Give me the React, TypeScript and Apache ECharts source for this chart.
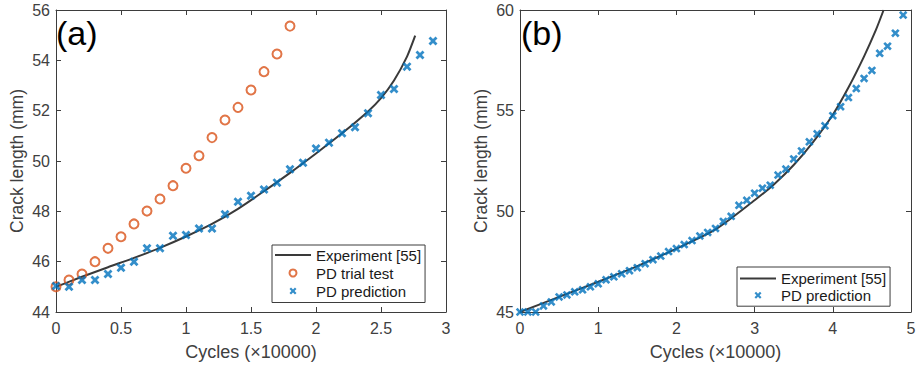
import React, { useEffect, useRef } from "react";
import * as echarts from "echarts";

// ---------- Panel (a) data ----------
const aExpX = [0, 0.2, 0.4, 0.6, 0.8, 1.0, 1.2, 1.4, 1.6, 1.8, 2.0, 2.2, 2.4, 2.5, 2.6, 2.7, 2.763];
const aExpY = [45.0, 45.4, 45.78, 46.15, 46.55, 47.0, 47.5, 48.1, 48.8, 49.53, 50.3, 51.1, 51.97, 52.5, 53.2, 54.15, 54.98];

const aTrialX = [0, 0.1, 0.2, 0.3, 0.4, 0.5, 0.6, 0.7, 0.8, 0.9, 1.0, 1.1, 1.2, 1.3, 1.4, 1.5, 1.6, 1.7, 1.8];
const aTrialY = [45.0, 45.27, 45.51, 46.0, 46.53, 46.99, 47.5, 48.01, 48.49, 49.02, 49.71, 50.21, 50.93, 51.63, 52.13, 52.82, 53.55, 54.25, 55.36];

const aPredX = [0, 0.1, 0.2, 0.3, 0.4, 0.5, 0.6, 0.7, 0.8, 0.9, 1.0, 1.1, 1.2, 1.3, 1.4, 1.5, 1.6, 1.7, 1.8, 1.9, 2.0, 2.1, 2.2, 2.3, 2.4, 2.5, 2.6, 2.7, 2.8, 2.9];
const aPredY = [45.03, 45.0, 45.27, 45.27, 45.51, 45.76, 46.0, 46.53, 46.53, 47.03, 47.06, 47.32, 47.32, 47.88, 48.38, 48.62, 48.87, 49.14, 49.67, 49.93, 50.5, 50.73, 51.1, 51.34, 51.9, 52.62, 52.86, 53.75, 54.21, 54.77];

// ---------- Panel (b) data ----------
const bExpX = [0, 0.5, 1.0, 1.5, 2.0, 2.5, 3.0, 3.25, 3.5, 3.75, 4.0, 4.2, 4.4, 4.55, 4.65];
const bExpY = [45.0, 45.75, 46.5, 47.28, 48.15, 49.1, 50.55, 51.35, 52.3, 53.45, 54.8, 56.15, 57.7, 59.0, 60.0];

const bPredX = [0, 0.1, 0.2, 0.3, 0.4, 0.5, 0.6, 0.7, 0.8, 0.9, 1.0, 1.1, 1.2, 1.3, 1.4, 1.5, 1.6, 1.7, 1.8, 1.9, 2.0, 2.1, 2.2, 2.3, 2.4, 2.5, 2.6, 2.7, 2.8, 2.9, 3.0, 3.1, 3.2, 3.3, 3.4, 3.5, 3.6, 3.7, 3.8, 3.9, 4.0, 4.1, 4.2, 4.3, 4.4, 4.5, 4.6, 4.7, 4.8, 4.9];
const bPredY = [45.0, 45.0, 45.0, 45.3, 45.5, 45.75, 45.85, 46.0, 46.1, 46.25, 46.4, 46.6, 46.75, 46.9, 47.05, 47.2, 47.4, 47.6, 47.78, 48.0, 48.15, 48.35, 48.55, 48.78, 48.95, 49.15, 49.5, 49.75, 50.3, 50.55, 50.9, 51.15, 51.3, 51.8, 52.1, 52.6, 53.0, 53.45, 53.85, 54.25, 54.75, 55.2, 55.65, 56.1, 56.6, 57.0, 57.85, 58.2, 58.85, 59.75];

const X_NAME = "Cycles (\u00d710000)";
const Y_NAME = "Crack length (mm)";

const FONT = "'Liberation Sans', Arial, Helvetica, sans-serif";
const AXIS_COLOR = "#3d3d3d";
const TEXT_COLOR = "#404040";
const ORANGE = "#D95319";
const BLUE = "#0072BD";
const LINE_COLOR = "#3a3a3a";
const X_MARK = "path://M2.2,0L5,2.8L7.8,0L10,2.2L7.2,5L10,7.8L7.8,10L5,7.2L2.2,10L0,7.8L2.8,5L0,2.2Z";
const LINE_ICON = "path://M0,0H36V2H0Z";

const zip = (xs: number[], ys: number[]) => xs.map((x, i) => [x, ys[i]]);

const tick = { show: true, inside: true, length: 5, lineStyle: { color: AXIS_COLOR, width: 1 } };
const line = { show: true, onZero: false, lineStyle: { color: AXIS_COLOR, width: 1 } };

function xAxes(gridIndex: number, min: number, max: number, interval: number) {
  return [
    {
      type: "value", gridIndex, min, max, interval, position: "bottom",
      axisLine: line, axisTick: tick, splitLine: { show: false },
      axisLabel: { color: TEXT_COLOR, fontSize: 16, fontFamily: FONT, margin: 8 },
      name: X_NAME, nameLocation: "middle", nameGap: 31,
      nameTextStyle: { color: TEXT_COLOR, fontSize: 18, fontFamily: FONT },
    },
    {
      type: "value", gridIndex, min, max, interval, position: "top",
      axisLine: line, axisTick: tick, splitLine: { show: false },
      axisLabel: { show: false },
    },
  ];
}

function yAxes(gridIndex: number, min: number, max: number, interval: number) {
  return [
    {
      type: "value", gridIndex, min, max, interval, position: "left",
      axisLine: line, axisTick: tick, splitLine: { show: false },
      axisLabel: { color: TEXT_COLOR, fontSize: 16, fontFamily: FONT, margin: 6 },
      name: Y_NAME, nameLocation: "middle", nameGap: 30, nameRotate: 90,
      nameTextStyle: { color: TEXT_COLOR, fontSize: 17.5, fontFamily: FONT },
    },
    {
      type: "value", gridIndex, min, max, interval, position: "right",
      axisLine: line, axisTick: tick, splitLine: { show: false },
      axisLabel: { show: false },
    },
  ];
}

export default function App() {
  const ref = useRef<HTMLDivElement>(null);
  useEffect(() => {
    if (!ref.current) return;
    const chart = echarts.init(ref.current, undefined, { renderer: "svg" });
    const legendBase = {
      orient: "vertical",
      itemWidth: 36,
      itemHeight: 7,
      backgroundColor: "#ffffff",
      borderColor: AXIS_COLOR,
      borderWidth: 1,
      borderRadius: 0,
      selectedMode: false,
      align: "left",
      textStyle: { color: "#1a1a1a", fontSize: 15, fontFamily: FONT, lineHeight: 15 },
    };
    const expLegend = { name: "Experiment [55]", icon: LINE_ICON };
    chart.setOption({
      animation: false,
      backgroundColor: "#ffffff",
      grid: [
        { left: 56, top: 10, width: 390, height: 302 },
        { left: 520, top: 10, width: 391, height: 302 },
      ],
      xAxis: [...xAxes(0, 0, 3, 0.5), ...xAxes(1, 0, 5, 1)],
      yAxis: [...yAxes(0, 44, 56, 2), ...yAxes(1, 45, 60, 5)],
      legend: [
        {
          ...legendBase,
          left: 272, top: 245, itemGap: 3, padding: [2.5, 4, 4, 3],
          data: [expLegend, "PD trial test", "PD prediction"],
        },
        {
          ...legendBase,
          left: 737, top: 267, itemGap: 1.7, padding: [4, 4, 3.5, 3],
          data: [expLegend, "PD prediction"],
        },
      ],
      graphic: [
        { type: "text", x: 56, y: 33, style: { text: "(a)", fontSize: 34, fontFamily: FONT, fill: "#000", verticalAlign: "middle", align: "left" } },
        { type: "text", x: 521, y: 33, style: { text: "(b)", fontSize: 34, fontFamily: FONT, fill: "#000", verticalAlign: "middle", align: "left" } },
      ],
      series: [
        {
          type: "line", name: "Experiment [55]", xAxisIndex: 0, yAxisIndex: 0,
          data: zip(aExpX, aExpY), symbol: "none", showSymbol: false, smooth: 0.25,
          lineStyle: { color: LINE_COLOR, width: 2 }, itemStyle: { color: LINE_COLOR }, z: 2,
        },
        {
          type: "scatter", name: "PD trial test", xAxisIndex: 0, yAxisIndex: 0,
          data: zip(aTrialX, aTrialY), symbol: "circle", symbolSize: 9, clip: false,
          itemStyle: { color: "rgba(255,255,255,0)", borderColor: ORANGE, borderWidth: 2 }, z: 3,
        },
        {
          type: "scatter", name: "PD prediction", xAxisIndex: 0, yAxisIndex: 0,
          data: zip(aPredX, aPredY), symbol: X_MARK, symbolSize: 9, clip: false,
          itemStyle: { color: BLUE }, z: 4,
        },
        {
          type: "line", name: "Experiment [55]", xAxisIndex: 2, yAxisIndex: 2,
          data: zip(bExpX, bExpY), symbol: "none", showSymbol: false, smooth: 0.25,
          lineStyle: { color: LINE_COLOR, width: 2 }, itemStyle: { color: LINE_COLOR }, z: 2,
        },
        {
          type: "scatter", name: "PD prediction", xAxisIndex: 2, yAxisIndex: 2,
          data: zip(bPredX, bPredY), symbol: X_MARK, symbolSize: 8.5, clip: false,
          itemStyle: { color: BLUE }, z: 4,
        },
      ],
    });
    return () => chart.dispose();
  }, []);
  return (
    <div
      ref={ref}
      style={{ position: "absolute", left: 0, top: 0, width: 923, height: 367 }}
    />
  );
}
